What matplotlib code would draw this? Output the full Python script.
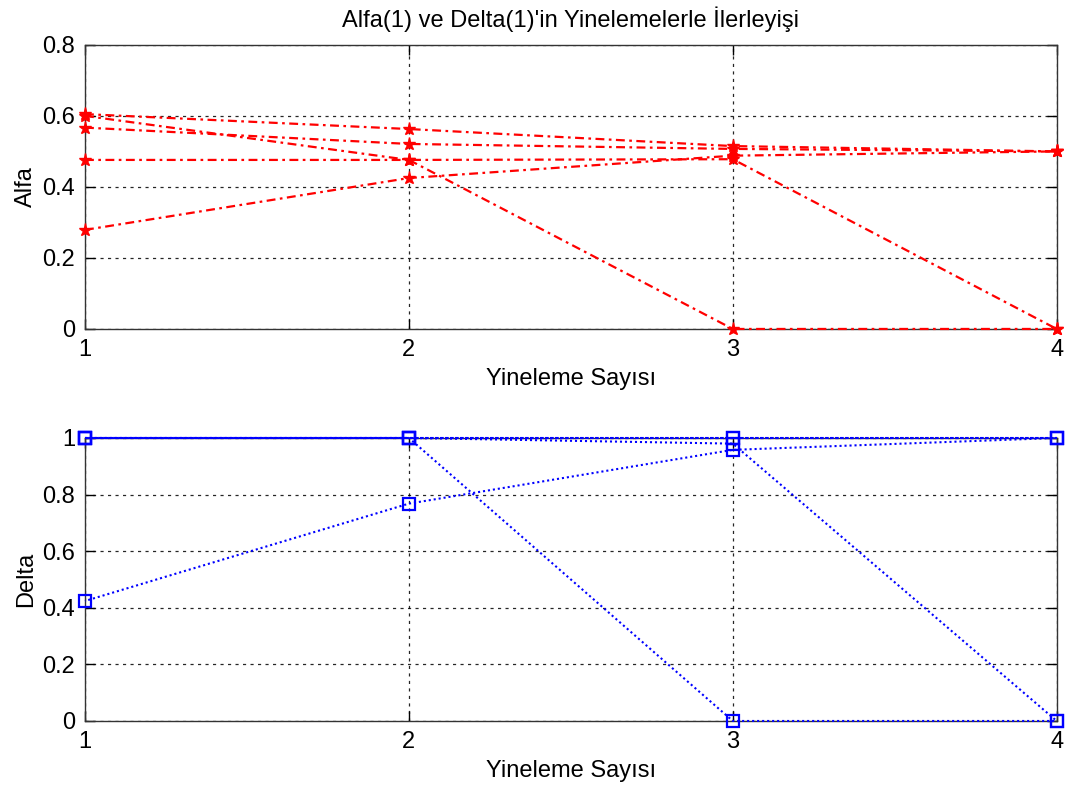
import matplotlib
matplotlib.use("Agg")
import matplotlib.pyplot as plt

plt.rcParams['font.family'] = ['Liberation Sans', 'DejaVu Sans']

iterations = [1, 2, 3, 4]

# Alfa(1) trajectories
alfa_series = [
    [0.605, 0.563, 0.515, 0.500],
    [0.600, 0.476, 0.000, 0.000],
    [0.567, 0.521, 0.507, 0.500],
    [0.476, 0.476, 0.478, 0.000],
    [0.279, 0.425, 0.488, 0.500],
]

# Delta(1) trajectories
delta_series = [
    [1.0, 1.0, 1.0, 1.0],
    [1.0, 1.0, 0.0, 0.0],
    [1.0, 1.0, 1.0, 1.0],
    [1.0, 1.0, 0.98, 0.0],
    [0.424, 0.768, 0.958, 1.0],
]

title = "Alfa(1) ve Delta(1)'in Yinelemelerle İlerleyişi"
xlabel = "Yineleme Sayısı"
alfa_ticks = [0, 0.2, 0.4, 0.6, 0.8]
alfa_ticklabels = ["0", "0.2", "0.4", "0.6", "0.8"]
delta_ticks = [0, 0.2, 0.4, 0.6, 0.8, 1.0]
delta_ticklabels = ["0", "0.2", "0.4", "0.6", "0.8", "1"]

FS = 17

fig = plt.figure(figsize=(10.69, 7.87), dpi=100)
ax1 = fig.add_axes([0.0795, 0.582, 0.909, 0.361])
ax2 = fig.add_axes([0.0795, 0.0839, 0.909, 0.3596])


def style(ax, yticks, yticklabels, ylim, ylabel):
    ax.set_xlim(1, 4)
    ax.set_ylim(*ylim)
    ax.set_xticks(iterations)
    ax.set_xticklabels([str(i) for i in iterations], fontsize=FS)
    ax.set_yticks(yticks)
    ax.set_yticklabels(yticklabels, fontsize=FS)
    ax.grid(True, color='black', linestyle=(0, (2.5, 3.5)), linewidth=0.9, alpha=0.85)
    ax.tick_params(direction='in', length=7, width=1, top=True, right=True, pad=7)
    for s in ax.spines.values():
        s.set_linewidth(1.0)
        s.set_color('#333333')
    ax.set_xlabel(xlabel, fontsize=FS, labelpad=5)
    ax.set_ylabel(ylabel, fontsize=FS, labelpad=4)


for ys in alfa_series:
    ax1.plot(iterations, ys, color='red', linestyle=(0, (4, 2, 1.2, 2)), linewidth=1.6,
             marker='*', markersize=9.5, clip_on=False, zorder=3)
for k, ys in enumerate(delta_series):
    ax2.plot(iterations, ys, color='blue', linestyle=(k * 0.8, (1, 1.4)), linewidth=1.5,
             marker='s', markersize=9, markerfacecolor='none',
             markeredgewidth=1.6, clip_on=False, zorder=3)

style(ax1, alfa_ticks, alfa_ticklabels, (0, 0.8), "Alfa")
style(ax2, delta_ticks, delta_ticklabels, (0, 1.0), "Delta")
ax1.set_title(title, fontsize=FS, pad=13)

fig.savefig("out.png", dpi=100)
